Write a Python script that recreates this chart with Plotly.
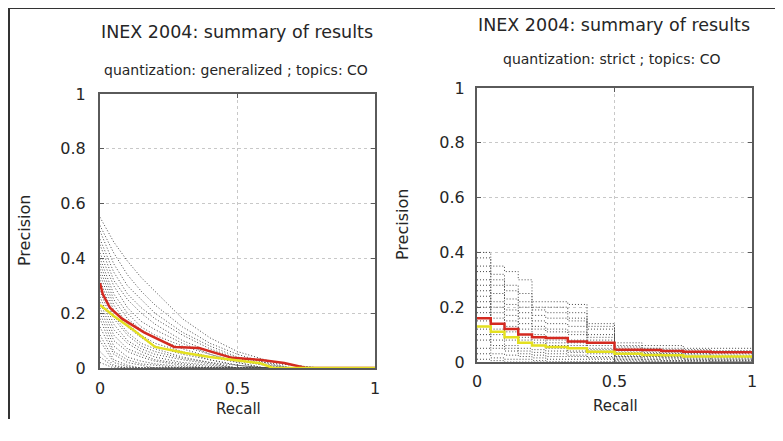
import plotly.graph_objects as go

# the page body keeps an 8px margin; keep the figure inside the window
OFF = 8
W, H = 767, 411

# ---- left panel: quantization generalized ----
recall_gen = [0, 0.05, 0.1, 0.15, 0.2, 0.3, 0.4, 0.5, 0.6, 0.7, 0.8, 1.0]
runs_gen = [
    [0.55, 0.46, 0.39, 0.33, 0.28, 0.18, 0.11, 0.06, 0.03, 0.01, 0.0, 0.0],
    [0.52, 0.42, 0.34, 0.28, 0.23, 0.15, 0.09, 0.05, 0.02, 0.01, 0.0, 0.0],
    [0.50, 0.38, 0.30, 0.25, 0.20, 0.13, 0.08, 0.04, 0.02, 0.0, 0.0, 0.0],
    [0.47, 0.35, 0.27, 0.22, 0.18, 0.12, 0.07, 0.035, 0.015, 0.0, 0.0, 0.0],
    [0.45, 0.32, 0.25, 0.20, 0.16, 0.10, 0.06, 0.03, 0.01, 0.0, 0.0, 0.0],
    [0.42, 0.30, 0.22, 0.17, 0.14, 0.09, 0.05, 0.025, 0.01, 0.0, 0.0, 0.0],
    [0.40, 0.27, 0.20, 0.15, 0.12, 0.08, 0.05, 0.02, 0.0, 0.0, 0.0, 0.0],
    [0.38, 0.25, 0.18, 0.14, 0.11, 0.07, 0.04, 0.02, 0.0, 0.0, 0.0, 0.0],
    [0.36, 0.23, 0.16, 0.12, 0.09, 0.06, 0.03, 0.01, 0.0, 0.0, 0.0, 0.0],
    [0.34, 0.21, 0.15, 0.11, 0.08, 0.05, 0.03, 0.01, 0.0, 0.0, 0.0, 0.0],
    [0.32, 0.19, 0.13, 0.09, 0.07, 0.04, 0.02, 0.0, 0.0, 0.0, 0.0, 0.0],
    [0.30, 0.18, 0.12, 0.08, 0.06, 0.035, 0.02, 0.01, 0.0, 0.0, 0.0, 0.0],
    [0.28, 0.16, 0.10, 0.07, 0.05, 0.03, 0.015, 0.0, 0.0, 0.0, 0.0, 0.0],
    [0.26, 0.14, 0.09, 0.06, 0.04, 0.02, 0.01, 0.0, 0.0, 0.0, 0.0, 0.0],
    [0.24, 0.12, 0.07, 0.05, 0.03, 0.015, 0.005, 0.0, 0.0, 0.0, 0.0, 0.0],
    [0.22, 0.10, 0.06, 0.04, 0.025, 0.01, 0.0, 0.0, 0.0, 0.0, 0.0, 0.0],
    [0.20, 0.08, 0.04, 0.025, 0.015, 0.005, 0.0, 0.0, 0.0, 0.0, 0.0, 0.0],
    [0.18, 0.06, 0.03, 0.015, 0.01, 0.0, 0.0, 0.0, 0.0, 0.0, 0.0, 0.0],
    [0.15, 0.05, 0.02, 0.01, 0.0, 0.0, 0.0, 0.0, 0.0, 0.0, 0.0, 0.0],
    [0.12, 0.03, 0.01, 0.0, 0.0, 0.0, 0.0, 0.0, 0.0, 0.0, 0.0, 0.0],
    [0.10, 0.02, 0.005, 0.0, 0.0, 0.0, 0.0, 0.0, 0.0, 0.0, 0.0, 0.0],
    [0.06, 0.01, 0.0, 0.0, 0.0, 0.0, 0.0, 0.0, 0.0, 0.0, 0.0, 0.0],
    [0.04, 0.005, 0.0, 0.0, 0.0, 0.0, 0.0, 0.0, 0.0, 0.0, 0.0, 0.0],
    [0.02, 0.0, 0.0, 0.0, 0.0, 0.0, 0.0, 0.0, 0.0, 0.0, 0.0, 0.0],
]
red_gen_r = [0, 0.01, 0.036, 0.08, 0.16, 0.27, 0.36, 0.48, 0.58, 0.67, 0.75, 1.0]
red_gen_p = [0.31, 0.27, 0.22, 0.18, 0.13, 0.077, 0.073, 0.037, 0.03, 0.018, 0.0, 0.0]
yel_gen_r = [0, 0.05, 0.12, 0.2, 0.31, 0.4, 0.48, 0.58, 0.63, 1.0]
yel_gen_p = [0.23, 0.19, 0.14, 0.077, 0.055, 0.04, 0.03, 0.018, 0.0, 0.0]

# ---- right panel: quantization strict ----
recall_str = [0, 0.05, 0.1, 0.15, 0.2, 0.25, 0.33, 0.4, 0.5, 0.6, 0.67, 0.75, 0.85, 1.0]
runs_str = [
    [0.40, 0.35, 0.33, 0.30, 0.22, 0.22, 0.21, 0.14, 0.07, 0.06, 0.06, 0.05, 0.05, 0.05],
    [0.38, 0.32, 0.28, 0.25, 0.20, 0.20, 0.18, 0.13, 0.06, 0.05, 0.05, 0.045, 0.04, 0.04],
    [0.35, 0.30, 0.26, 0.22, 0.19, 0.18, 0.16, 0.12, 0.055, 0.05, 0.045, 0.04, 0.04, 0.035],
    [0.33, 0.28, 0.23, 0.20, 0.17, 0.16, 0.15, 0.10, 0.05, 0.045, 0.04, 0.035, 0.035, 0.03],
    [0.30, 0.25, 0.21, 0.18, 0.15, 0.14, 0.13, 0.09, 0.045, 0.04, 0.035, 0.03, 0.03, 0.025],
    [0.28, 0.22, 0.19, 0.16, 0.13, 0.12, 0.11, 0.08, 0.04, 0.035, 0.03, 0.03, 0.025, 0.02],
    [0.26, 0.20, 0.17, 0.14, 0.12, 0.11, 0.10, 0.07, 0.035, 0.03, 0.03, 0.025, 0.02, 0.02],
    [0.24, 0.18, 0.15, 0.12, 0.10, 0.09, 0.08, 0.06, 0.03, 0.03, 0.025, 0.02, 0.02, 0.015],
    [0.22, 0.16, 0.13, 0.10, 0.09, 0.08, 0.07, 0.05, 0.03, 0.025, 0.02, 0.02, 0.015, 0.015],
    [0.20, 0.14, 0.11, 0.09, 0.08, 0.07, 0.06, 0.045, 0.025, 0.02, 0.02, 0.015, 0.015, 0.01],
    [0.18, 0.12, 0.09, 0.08, 0.07, 0.06, 0.05, 0.04, 0.02, 0.02, 0.015, 0.015, 0.01, 0.01],
    [0.15, 0.10, 0.08, 0.07, 0.06, 0.05, 0.04, 0.035, 0.02, 0.015, 0.015, 0.01, 0.01, 0.01],
    [0.12, 0.08, 0.06, 0.05, 0.045, 0.04, 0.035, 0.03, 0.015, 0.01, 0.01, 0.01, 0.005, 0.005],
    [0.10, 0.06, 0.05, 0.04, 0.035, 0.03, 0.025, 0.02, 0.01, 0.01, 0.005, 0.005, 0.005, 0.005],
    [0.08, 0.05, 0.04, 0.03, 0.025, 0.02, 0.02, 0.015, 0.01, 0.005, 0.005, 0.005, 0.0, 0.0],
    [0.05, 0.03, 0.025, 0.02, 0.015, 0.01, 0.01, 0.01, 0.005, 0.0, 0.0, 0.0, 0.0, 0.0],
    [0.03, 0.015, 0.01, 0.01, 0.005, 0.0, 0.0, 0.0, 0.0, 0.0, 0.0, 0.0, 0.0, 0.0],
    [0.01, 0.005, 0.0, 0.0, 0.0, 0.0, 0.0, 0.0, 0.0, 0.0, 0.0, 0.0, 0.0, 0.0],
]
red_str_p = [0.16, 0.14, 0.12, 0.10, 0.09, 0.088, 0.075, 0.07, 0.045, 0.044, 0.04, 0.037, 0.036, 0.033]
yel_str_p = [0.13, 0.11, 0.09, 0.07, 0.06, 0.055, 0.05, 0.037, 0.03, 0.026, 0.025, 0.02, 0.02, 0.015]

y_ticks = [0, 0.2, 0.4, 0.6, 0.8, 1]
y_labels = ["0", "0.2", "0.4", "0.6", "0.8", "1"]
x_ticks = [0, 0.5, 1]
x_labels = ["0", "0.5", "1"]

FONT = "DejaVu Sans, Verdana, sans-serif"
TXT = "#262626"
RUN = dict(color="#4a4a4a", width=1, dash="1px,2px")

fig = go.Figure()

for p in runs_gen:
    fig.add_trace(go.Scatter(x=recall_gen, y=p, mode="lines", xaxis="x", yaxis="y", line=RUN))
fig.add_trace(go.Scatter(x=red_gen_r, y=red_gen_p, mode="lines", xaxis="x", yaxis="y",
                         line=dict(color="#d42a20", width=2.5)))
fig.add_trace(go.Scatter(x=yel_gen_r, y=yel_gen_p, mode="lines", xaxis="x", yaxis="y",
                         line=dict(color="#e4e020", width=2.5)))

for p in runs_str:
    fig.add_trace(go.Scatter(x=recall_str, y=p, mode="lines", xaxis="x2", yaxis="y2",
                             line=dict(RUN, shape="hv")))
fig.add_trace(go.Scatter(x=recall_str, y=red_str_p, mode="lines", xaxis="x2", yaxis="y2",
                         line=dict(color="#d42a20", width=2.5, shape="hv")))
fig.add_trace(go.Scatter(x=recall_str, y=yel_str_p, mode="lines", xaxis="x2", yaxis="y2",
                         line=dict(color="#e4e020", width=2.5, shape="hv")))


# reference pixel -> paper coordinate
def px_x(v):
    return (v - OFF) / W


def px_y(v):
    return 1 - (v - OFF) / H


axis_common = dict(
    range=[0, 1], showline=True, mirror="ticks", linecolor="#5a5a5a", linewidth=2,
    ticks="inside", ticklen=4, tickcolor="#5a5a5a", showgrid=True, gridcolor="#c8c8c8",
    griddash="dot", zeroline=False, automargin=False,
    tickfont=dict(family=FONT, size=16, color=TXT),
)

fig.update_layout(
    width=W, height=H, showlegend=False,
    margin=dict(l=0, r=0, t=0, b=0, autoexpand=False),
    paper_bgcolor="white", plot_bgcolor="white",
    xaxis=dict(domain=[px_x(100), px_x(375)], anchor="y", tickvals=x_ticks,
               ticktext=x_labels, ticklabelstandoff=5, **axis_common),
    yaxis=dict(domain=[px_y(368), px_y(94)], anchor="x", tickvals=y_ticks,
               ticktext=y_labels, ticklabelstandoff=9, **axis_common),
    xaxis2=dict(domain=[px_x(477), px_x(752)], anchor="y2", tickvals=x_ticks,
                ticktext=x_labels, ticklabelstandoff=4, **axis_common),
    yaxis2=dict(domain=[px_y(362), px_y(88)], anchor="x2", tickvals=y_ticks,
                ticktext=y_labels, ticklabelstandoff=7, **axis_common),
)

texts = [
    ("INEX 2004: summary of results", 237, 32, 17.5, 0),
    ("quantization: generalized ; topics: CO", 236, 70, 14, 0),
    ("Recall", 238, 409, 15, 0),
    ("Precision", 24, 231, 16, -90),
    ("INEX 2004: summary of results", 614, 25, 17.5, 0),
    ("quantization: strict ; topics: CO", 612, 59, 14, 0),
    ("Recall", 615, 406, 15, 0),
    ("Precision", 402, 225, 16, -90),
]
for t, x, y, s, a in texts:
    fig.add_annotation(text=t, x=px_x(x), y=px_y(y), xref="paper", yref="paper",
                       showarrow=False, textangle=a, xanchor="center", yanchor="middle",
                       borderpad=0, font=dict(family=FONT, size=s, color=TXT))

# frame around the figure (left and top edges)
fig.add_shape(type="line", xref="paper", yref="paper", x0=px_x(9), x1=px_x(9),
              y0=0, y1=px_y(8), line=dict(color="#333333", width=2))
fig.add_shape(type="line", xref="paper", yref="paper", x0=px_x(9), x1=1,
              y0=px_y(8), y1=px_y(8), line=dict(color="#333333", width=2))

fig.write_html("out.html")
